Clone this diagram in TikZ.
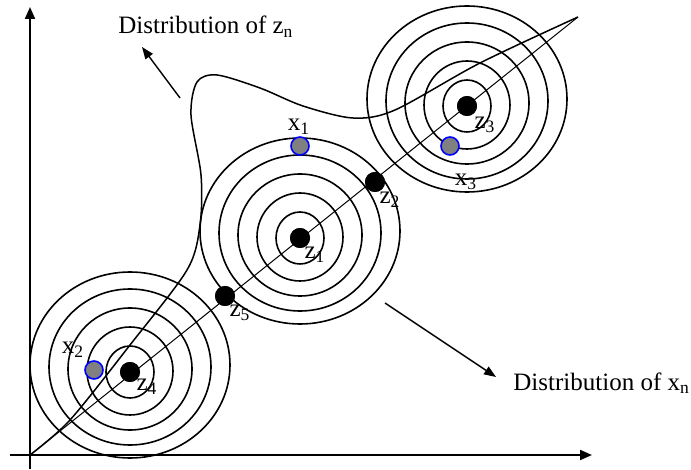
\documentclass[tikz,border=0pt]{standalone}
\usepackage{fontspec}
\setmainfont{Liberation Serif}
\usepackage{tikz}
\usetikzlibrary{positioning, arrows.meta}

\begin{document}
\begin{tikzpicture}[
  x=0.5pt, y=-0.5pt,
  >={Triangle[length=6pt, width=5pt]},
  axis/.style={line width=1pt},
  ring/.style={line width=0.8pt},
  pointer/.style={line width=0.7pt, -{Triangle[length=6pt, width=4.5pt]}},
  zdot/.style={circle, fill=black, minimum size=10pt, inner sep=0pt},
  xdot/.style={circle, fill=gray, draw=blue, line width=0.8pt,
    minimum size=9pt, inner sep=0pt},
  lbl/.style={font=\fontsize{12.5}{14}\selectfont, inner sep=0pt}
]
\useasboundingbox (0,0) rectangle (691,470);

\coordinate (orig) at (30,455);
\coordinate (tip) at (578,17);
\coordinate (ybot) at (30,469);
\coordinate (ytop) at (30,7);
\coordinate (xleft) at (10,455);
\coordinate (xright) at (592,455);

\node[zdot] (z4) at (130,372) {};
\node[zdot] (z5) at (225,296) {};
\node[zdot] (z1) at (300,238) {};
\node[zdot] (z2) at (375,182) {};
\node[zdot] (z3) at (467,106) {};

\foreach \c in {z1,z3,z4}
  \foreach \r/\ry/\s in {24/26/0, 43/44/1, 62/61/3, 81/78/5, 100/93/7}
    \draw[ring] (\c.center) ++(0,-\s) ellipse [x radius=\r, y radius=\ry];

\draw[line width=0.5pt] (orig) -- (tip);
\draw[line width=0.75pt] plot[smooth] coordinates {(orig) (70,420) (130,345)
  (187,270) (200,225) (201,175) (191,115) (197,82) (217,75) (260,88)
  (303,106) (353,118) (395,110) (480,63) (tip)};

\node[zdot] at (z4) {};
\node[zdot] at (z5) {};
\node[zdot] at (z1) {};
\node[zdot] at (z2) {};
\node[zdot] at (z3) {};

\node[xdot] (x1) at (300,146) {};
\node[xdot] (x2) at (94,370) {};
\node[xdot] (x3) at (450,146) {};

\node[lbl] (lx1) at (299,127) {x\textsubscript{1}};
\node[lbl] (lx2) at (73,350) {x\textsubscript{2}};
\node[lbl] (lx3) at (466,182) {x\textsubscript{3}};
\node[lbl] (lz1) at (315,255) {z\textsubscript{1}};
\node[lbl] (lz2) at (390,200) {z\textsubscript{2}};
\node[lbl] (lz3) at (485,125) {z\textsubscript{3}};
\node[lbl] (lz4) at (147,387) {z\textsubscript{4}};
\node[lbl] (lz5) at (240,313) {z\textsubscript{5}};

\node[lbl, anchor=west] (zdist) at (118,27) {Distribution of z\textsubscript{n}};
\node[lbl, anchor=west] (xdist) at (513,383) {Distribution of x\textsubscript{n}};

\coordinate (ztail) at (180,98);
\coordinate (ztip) at (142,47);
\coordinate (xtail) at (385,303);
\coordinate (xtip) at (496,377);
\draw[pointer] (ztail) -- (ztip);
\draw[pointer] (xtail) -- (xtip);

\draw[axis, ->] (ybot) -- (ytop);
\draw[axis, ->] (xleft) -- (xright);

\end{tikzpicture}
\end{document}
